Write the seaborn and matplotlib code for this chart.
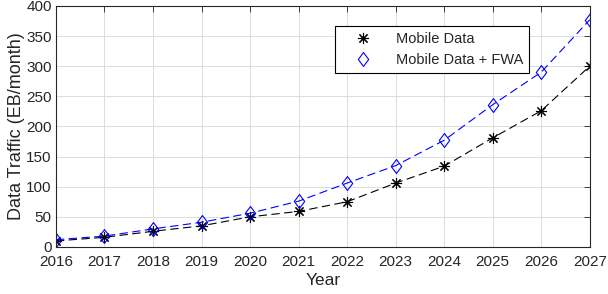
import pandas as pd
import matplotlib
matplotlib.use("Agg")
import matplotlib.pyplot as plt
from matplotlib.path import Path
import seaborn as sns

years = [2016, 2017, 2018, 2019, 2020, 2021, 2022, 2023, 2024, 2025, 2026, 2027]
mobile_data = [10, 16, 26, 35, 50, 59, 75, 106, 134, 181, 226, 300]
mobile_fwa = [12, 18, 30, 41, 56, 76, 106, 135, 177, 236, 290, 377]
y_ticks = [0, 50, 100, 150, 200, 250, 300, 350, 400]

sns.set_style("white")
plt.rcParams['font.family'] = ['Liberation Sans', 'DejaVu Sans']

df = pd.DataFrame({"Year": years, "Mobile Data": mobile_data, "Mobile Data + FWA": mobile_fwa})

# matlab style diamond (a bit wider than matplotlib's thin diamond)
diamond = Path([(0, 1), (0.75, 0), (0, -1), (-0.75, 0), (0, 1)],
               [Path.MOVETO, Path.LINETO, Path.LINETO, Path.LINETO, Path.CLOSEPOLY])
dash = (0, (7.5, 4))

fig = plt.figure(figsize=(6.08, 2.94), dpi=100)
ax = fig.add_axes([0.092, 0.160, 0.878, 0.820])

sns.lineplot(data=df, x="Year", y="Mobile Data", ax=ax, color="black",
             linestyle=dash, linewidth=0.8, marker=(8, 2, 0), markersize=8,
             markeredgecolor="black", markeredgewidth=0.8, label="Mobile Data")
sns.lineplot(data=df, x="Year", y="Mobile Data + FWA", ax=ax, color="blue",
             linestyle=dash, linewidth=0.8, marker=diamond, markersize=10,
             markerfacecolor="none", markeredgecolor="blue", markeredgewidth=0.8,
             label="Mobile Data + FWA")

ax.set_xlim(2016, 2027)
ax.set_ylim(0, 400)
ax.set_xticks(years)
ax.set_yticks(y_ticks)
ax.tick_params(direction="in", top=True, right=True, labelsize=11, colors="#262626",
               length=4, width=0.6, pad=3)
ax.tick_params(axis="x", pad=6)
ax.grid(True, color="#dcdcdc", linewidth=0.7)
for s in ax.spines.values():
    s.set_color("#262626")
    s.set_linewidth(0.8)
ax.set_xlabel("Year", fontsize=12.5, color="#262626", labelpad=3)
ax.set_ylabel("Data Traffic (EB/month)", fontsize=13, color="#262626", labelpad=1)

leg = ax.legend(loc="upper left", bbox_to_anchor=(0.509, 0.945), fontsize=10.5,
                frameon=True, fancybox=False, edgecolor="black", framealpha=1,
                handlelength=3.0, handletextpad=0.8, borderpad=0.4, labelspacing=0.45)
leg.get_frame().set_linewidth(0.8)
for line in leg.get_lines():
    line.set_linestyle("none")

fig.savefig("out.png", dpi=100)
